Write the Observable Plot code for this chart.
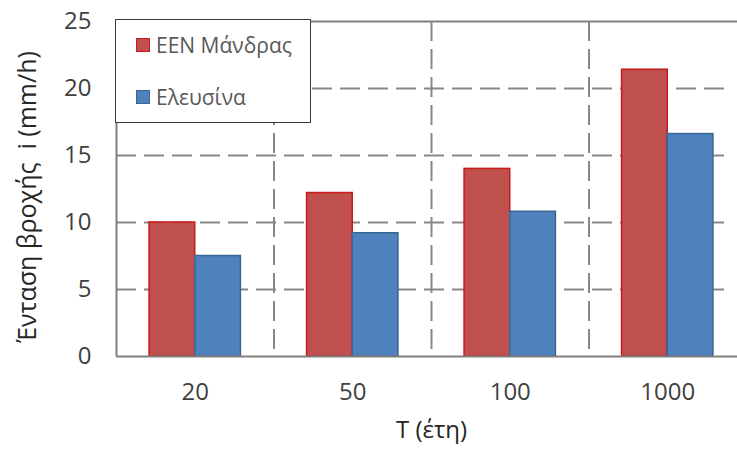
<!DOCTYPE html>
<html>
<head>
<meta charset="utf-8">
<script src="https://cdn.jsdelivr.net/npm/d3@7"></script>
<script src="https://cdn.jsdelivr.net/npm/@observablehq/plot@0.6"></script>
<style>
  html, body { margin: 0; padding: 0; background: #fff; }
  #chart { position: relative; width: 737px; height: 451px; font-family: "Open Sans", sans-serif; }
  #legend {
    position: absolute; left: 115px; top: 19px; width: 196px; height: 104px;
    box-sizing: border-box; border: 1px solid #3a3a3a; background: #fff;
  }
  .item { position: absolute; left: 20px; display: flex; align-items: center; font-size: 21px; color: #595959; white-space: nowrap; }
  .swatch { width: 12px; height: 12px; margin-right: 6px; border: 1px solid; }
</style>
</head>
<body>
<div id="chart"></div>
<script>
// Return periods (years) and rainfall intensity for each station
const periods = ["20", "50", "100", "1000"];
const seriesNames = ["ΕΕΝ Μάνδρας", "Ελευσίνα"];
const mandra = [10.0, 12.2, 14.0, 21.4];
const elefsina = [7.5, 9.2, 10.8, 16.6];
const fills = ["#C0504D", "#4F81BD"];
const strokes = ["#C8191C", "#3B6595"];
const yTicks = [0, 5, 10, 15, 20, 25];
const yTitle = "Ένταση βροχής  i (mm/h)";
const xTitle = "T (έτη)";

const barWidth = 0.29; // fraction of a category slot per bar

const rows = [];
periods.forEach((p, i) => {
  rows.push({i, s: 0, x1: i - barWidth, x2: i, value: mandra[i]});
  rows.push({i, s: 1, x1: i, x2: i + barWidth, value: elefsina[i]});
});

const grid = {stroke: "#878787", strokeWidth: 2, strokeDasharray: "20,8"};
const axisLine = {stroke: "#808080", strokeWidth: 2};

const chart = Plot.plot({
  width: 737,
  height: 451,
  marginLeft: 116,
  marginRight: 7,
  marginTop: 21,
  marginBottom: 95,
  style: {fontFamily: "Open Sans, sans-serif", background: "#fff"},
  x: {domain: [-0.5, periods.length - 0.5], range: [116, 746]},
  y: {domain: [0, 25]},
  marks: [
    Plot.ruleY(yTicks.filter(v => v > 0 && v < 25), grid),
    Plot.ruleX(d3.range(periods.length - 1).map(i => i + 0.5), grid),
    Plot.ruleY([25], {x1: -0.5, x2: periods.length - 0.5, ...axisLine}),
    Plot.rect(rows, {
      x1: "x1", x2: "x2", y1: 0, y2: "value",
      fill: d => fills[d.s], stroke: d => strokes[d.s], strokeWidth: 1.5
    }),
    Plot.ruleX([-0.5], {y1: 0, y2: 25, ...axisLine}),
    Plot.ruleY([0], {x1: -0.5, x2: periods.length - 0.5, ...axisLine}),
    Plot.axisY({ticks: yTicks, tickSize: 0, tickPadding: 25, fontSize: 24, fill: "#404040", label: null}),
    Plot.axisX({ticks: d3.range(periods.length), tickFormat: i => periods[i], tickSize: 0, tickPadding: 26, fontSize: 24, fill: "#404040", label: null}),
    Plot.text([yTitle], {text: d => d, frameAnchor: "left", textAnchor: "middle", dx: -89, dy: 8, rotate: -90, fontSize: 25, fill: "#262626"}),
    Plot.text([xTitle], {text: d => d, frameAnchor: "bottom", textAnchor: "middle", dx: 8, dy: 81, fontSize: 24, fill: "#262626"})
  ]
});

const root = document.getElementById("chart");
root.appendChild(chart);

// Legend box in the top-left corner of the plot area
const legend = document.createElement("div");
legend.id = "legend";
seriesNames.forEach((name, k) => {
  const item = document.createElement("div");
  item.className = "item";
  item.style.top = (k === 0 ? 11 : 63) + "px";
  const sw = document.createElement("span");
  sw.className = "swatch";
  sw.style.background = fills[k];
  sw.style.borderColor = strokes[k];
  item.appendChild(sw);
  item.appendChild(document.createTextNode(name));
  legend.appendChild(item);
});
root.appendChild(legend);
</script>
</body>
</html>
